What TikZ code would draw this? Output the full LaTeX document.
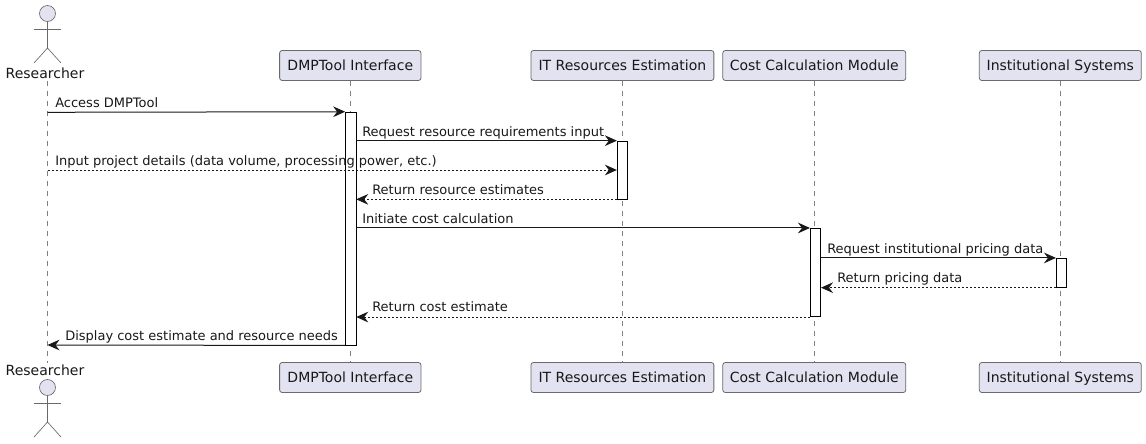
\documentclass[tikz,border=0pt]{standalone}
\usepackage{fontspec}
\setmainfont{DejaVu Sans}
\usepackage{xcolor}
\usetikzlibrary{arrows.meta,positioning}

\definecolor{partfill}{HTML}{E2E2F0}
\definecolor{partline}{HTML}{181818}
\definecolor{thinline}{HTML}{6A6A6A}

\tikzset{
    part/.style={draw=thinline, fill=partfill, line width=0.6pt, rounded corners=1.9pt, minimum height=22.5pt, text height=7.9pt, text depth=0pt, font=\fontsize{10.5}{12}\selectfont, text=partline, inner sep=0pt},
    actorlabel/.style={font=\fontsize{10.5}{12}\selectfont, text=partline, inner sep=0pt},
    actorhead/.style={circle, draw=thinline, fill=partfill, line width=0.5pt, minimum size=12pt, inner sep=0pt},
    limb/.style={draw=thinline, line width=0.5pt},
    lifeline/.style={draw=thinline!85, line width=0.4pt, dash pattern=on 3.75pt off 3.75pt},
    bar/.style={draw=black, fill=white, line width=0.5pt, minimum width=7.8pt, inner sep=0pt},
    msg/.style={draw=partline, line width=0.75pt, -{Stealth[length=9pt,width=8pt,inset=3pt]}},
    reply/.style={msg, dash pattern=on 1.5pt off 1.5pt},
    msglabel/.style={anchor=base west, font=\fontsize{9.75}{12}\selectfont, text=partline, inner sep=0pt}
}

\begin{document}
\begin{tikzpicture}[x=0.75pt, y=-0.75pt]
    \useasboundingbox (0,0) rectangle (1146,443);

    % Participants, top
    \node[part, minimum width=106pt] (dmptop) at (350.3,65.5) {DMPTool Interface};
    \node[part, minimum width=137.2pt] (ittop) at (622.4,65.5) {IT Resources Estimation};
    \node[part, minimum width=137.2pt] (costtop) at (814.3,65.5) {Cost Calculation Module};
    \node[part, minimum width=121.5pt] (insttop) at (1060.3,65.5) {Institutional Systems};

    % Participants, bottom
    \node[part, minimum width=106pt] (dmpbot) at (350.3,377.5) {DMPTool Interface};
    \node[part, minimum width=137.2pt] (itbot) at (622.4,377.5) {IT Resources Estimation};
    \node[part, minimum width=137.2pt] (costbot) at (814.3,377.5) {Cost Calculation Module};
    \node[part, minimum width=121.5pt] (instbot) at (1060.3,377.5) {Institutional Systems};

    % Actor, top
    \node[actorhead] (headtop) at (47.5,13.5) {};
    \coordinate (hiptop) at (47.5,48);
    \draw[limb] (headtop) -- (hiptop);
    \draw[limb] (34,29) -- (61,29);
    \draw[limb] (34,63) -- (hiptop) -- (61,63);
    \node[actorlabel] (restop) at (45,73) {Researcher};

    % Actor, bottom
    \node[actorhead] (headbot) at (47.5,387.5) {};
    \coordinate (hipbot) at (47.5,422);
    \draw[limb] (headbot) -- (hipbot);
    \draw[limb] (34,403) -- (61,403);
    \draw[limb] (34,437) -- (hipbot) -- (61,437);
    \node[actorlabel] (resbot) at (45,370) {Researcher};

    % Lifelines
    \coordinate (resup) at (47.5,81);
    \coordinate (resdown) at (47.5,363);
    \draw[lifeline] (resup) -- (resdown);
    \draw[lifeline] (dmptop) -- (dmpbot);
    \draw[lifeline] (ittop) -- (itbot);
    \draw[lifeline] (costtop) -- (costbot);
    \draw[lifeline] (insttop) -- (instbot);

    % Activation bars
    \node[bar, minimum height=174.8pt] (dmpbar) at (350.7,228.6) {};
    \node[bar, minimum height=43.5pt] (itbar) at (622.4,170) {};
    \node[bar, minimum height=66.3pt] (costbar) at (815.5,272.5) {};
    \node[bar, minimum height=21.8pt] (instbar) at (1061.5,272.8) {};

    % Messages
    \coordinate (access) at (47.5,112.3);
    \coordinate (input) at (47.5,170);
    \coordinate (display) at (47.5,345);

    \draw[msg] (access) -- (dmpbar.north west);
    \node[msglabel] (accesslabel) at (55,107.5) {Access DMPTool};

    \draw[msg] (dmpbar.east |- itbar.north) -- (itbar.north west);
    \node[msglabel] (requestlabel) at (362,136.5) {Request resource requirements input};

    \draw[reply] (input) -- (itbar.west);
    \node[msglabel] (inputlabel) at (55,165.5) {Input project details (data volume, processing power, etc.)};

    \draw[reply] (itbar.south west) -- (dmpbar.east |- itbar.south);
    \node[msglabel] (estimateslabel) at (372,194.5) {Return resource estimates};

    \draw[msg] (dmpbar.east |- costbar.north) -- (costbar.north west);
    \node[msglabel] (initiatelabel) at (362,223.5) {Initiate cost calculation};

    \draw[msg] (costbar.east |- instbar.north) -- (instbar.north west);
    \node[msglabel] (pricinglabel) at (827,253) {Request institutional pricing data};

    \draw[reply] (instbar.south west) -- (costbar.east |- instbar.south);
    \node[msglabel] (datalabel) at (837,282) {Return pricing data};

    \draw[reply] (costbar.south west) -- (dmpbar.east |- costbar.south);
    \node[msglabel] (costlabel) at (372,311) {Return cost estimate};

    \draw[msg] (dmpbar.south west) -- (display);
    \node[msglabel] (displaylabel) at (65,340) {Display cost estimate and resource needs};
\end{tikzpicture}
\end{document}
